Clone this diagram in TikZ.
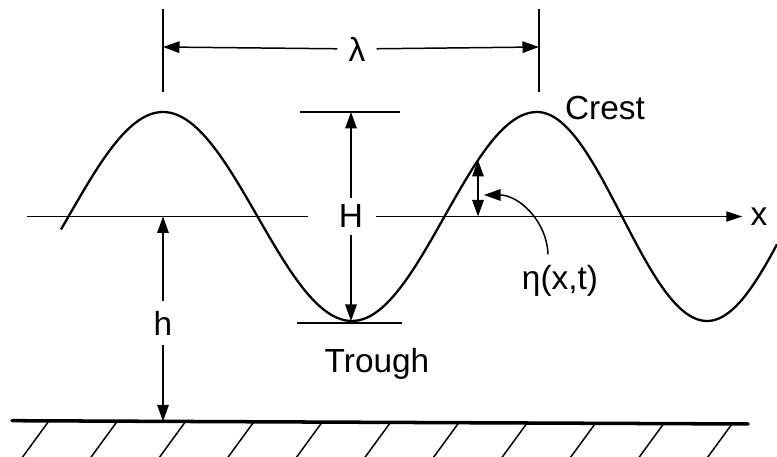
\documentclass[tikz,border=0pt]{standalone}
\usepackage{fontspec}
\setmainfont{Liberation Sans}
\usetikzlibrary{arrows.meta,calc}

\tikzset{
  thinline/.style={line width=0.85pt},
  axisline/.style={line width=1.05pt},
  waveline/.style={line width=1.3pt},
  groundline/.style={line width=2pt,line cap=round},
  dimarrow/.style={thinline,-{Triangle[length=3.3mm,width=2.3mm]}},
  dimboth/.style={thinline,{Triangle[length=3.3mm,width=2.3mm]}-{Triangle[length=3.3mm,width=2.3mm]}},
  lbl/.style={inner sep=0pt,font=\fontsize{19}{22}\selectfont},
}

\begin{document}
\begin{tikzpicture}[x=0.2mm,y=0.2mm]
\useasboundingbox (0,0) rectangle (777,457);

\coordinate (axL) at (27,240.5);
\coordinate (axA) at (308,240.5);
\coordinate (axB) at (376,240.5);
\coordinate (lamL) at (163,410);
\coordinate (lamR) at (539,410);
\coordinate (Htop) at (351,345);
\coordinate (Hbot) at (351,136);
\coordinate (hTop) at (163,240.5);
\coordinate (hBot) at (163,35.6);
\coordinate (etaB) at (478,240.5);
\coordinate (etaT) at (478,297);
\coordinate (etaP) at (484,262);
\coordinate (gL) at (12,36.3);
\coordinate (gR) at (748,33);

% free surface
\draw[waveline] plot[domain=61:163,samples=30] (\x,{240.5-104.5*cos((\x+26)/189*180)})
  -- plot[domain=163:352,samples=50] (\x,{240.5+104.5*cos((\x-163)/189*180)})
  -- plot[domain=352:537,samples=50] (\x,{240.5-104.5*cos((\x-352)/185*180)})
  -- plot[domain=537:707,samples=50] (\x,{240.5+104.5*cos((\x-537)/170*180)})
  -- plot[domain=707:777,samples=25] (\x,{240.5-104.5*cos((\x-707)/169*180)});

% bottom
\draw[groundline] (gL) -- (gR);
\foreach \k in {0,...,10}
  \draw[thinline] ($(gL)!{(37+68.3*\k)/736}!(gR)$) -- ++(-27,-37);

\node[lbl] (lam) [inner xsep=2.2mm] at (357,408) {λ};
\node[lbl] (H) [inner ysep=1.4mm] at (351,240.5) {H};
\node[lbl] (h) [inner ysep=1.9mm] at (163,134) {h};
\node[lbl] (xl) [inner xsep=1.6mm] at (759,240.5) {x};
\node[lbl] (eta) [anchor=base,inner ysep=2.2mm] at (560,167) {η(x,t)};
\node[lbl] (crest) [anchor=base] at (605,337) {Crest};
\node[lbl] (trough) [anchor=base] at (377,84) {Trough};

\draw[thinline] (163,365) -- (163,448) (539,365) -- (539,448);
\draw[dimarrow] (lam) -- (lamL);
\draw[dimarrow] (lam) -- (lamR);

\draw[axisline] (axL) -- (axA);
\draw[axisline,-{Triangle[length=3.2mm,width=2mm]}] (axB) -- (xl);

\draw[thinline] (300,345) -- (400,345) (297,134) -- (402,134);
\draw[dimarrow] (H) -- (Htop);
\draw[dimarrow] (H) -- (Hbot);

\draw[dimarrow] (h) -- (hTop);
\draw[dimarrow] (h) -- (hBot);

\draw[dimboth] (etaB) -- (etaT);
\draw[dimarrow] ([xshift=-2.4mm]eta.north) to[out=92,in=0] (etaP);

\end{tikzpicture}
\end{document}
